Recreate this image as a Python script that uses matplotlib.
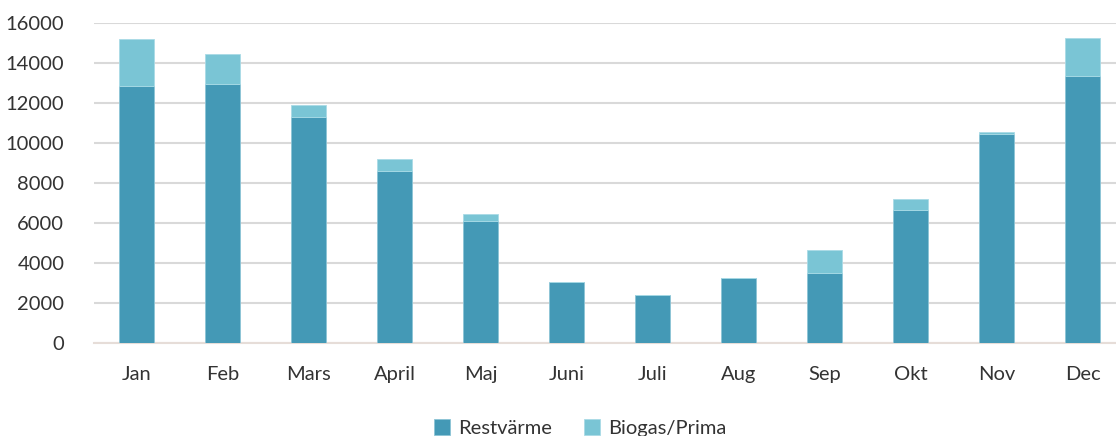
import matplotlib
matplotlib.use('Agg')
import matplotlib.pyplot as plt
import numpy as np

months = ['Jan', 'Feb', 'Mars', 'April', 'Maj', 'Juni', 'Juli', 'Aug', 'Sep', 'Okt', 'Nov', 'Dec']
restvarme = [12880, 12950, 11330, 8615, 6115, 3065, 2415, 3265, 3500, 6665, 10450, 13380]
biogas = [2335, 1515, 585, 600, 350, 0, 0, 0, 1165, 535, 100, 1885]

plt.rcParams['font.family'] = ['Lato', 'DejaVu Sans']

fig = plt.figure(figsize=(11.16, 4.36), dpi=100)
ax = fig.add_axes([93.5 / 1116, (436 - 343.3) / 436, 1032 / 1116, 320 / 436])

x = np.arange(len(months))
ax.bar(x, restvarme, width=0.4, color='#4499B6', edgecolor='#8cc4d6', linewidth=0.6,
       label='Restvärme', zorder=3)
ax.bar(x, biogas, width=0.4, bottom=restvarme, color='#7AC5D5', edgecolor='#a9dbe6',
       linewidth=0.6, label='Biogas/Prima', zorder=3)

ax.set_xlim(-0.5, len(months) - 0.5)
ax.set_ylim(0, 16000)
ax.set_yticks(range(0, 16001, 2000))
ax.set_xticks(x)
ax.set_xticklabels(months)
ax.tick_params(axis='both', length=0, labelsize=14.5, colors='#333333')
ax.tick_params(axis='x', pad=16)
ax.tick_params(axis='y', pad=21)
ax.grid(axis='y', color='#D9D9D9', linewidth=1.5, zorder=0)
for s in ['top', 'right', 'left']:
    ax.spines[s].set_visible(False)
ax.spines['bottom'].set_color('#E6DDD8')
ax.spines['bottom'].set_linewidth(1.5)

fig.legend(loc='center', bbox_to_anchor=(580 / 1116, (436 - 428) / 436), ncol=2,
           frameon=False, fontsize=14.5, handlelength=0.8, handleheight=0.8,
           columnspacing=1.6, handletextpad=0.4, labelcolor='#333333')

fig.savefig('out.png', dpi=100)
